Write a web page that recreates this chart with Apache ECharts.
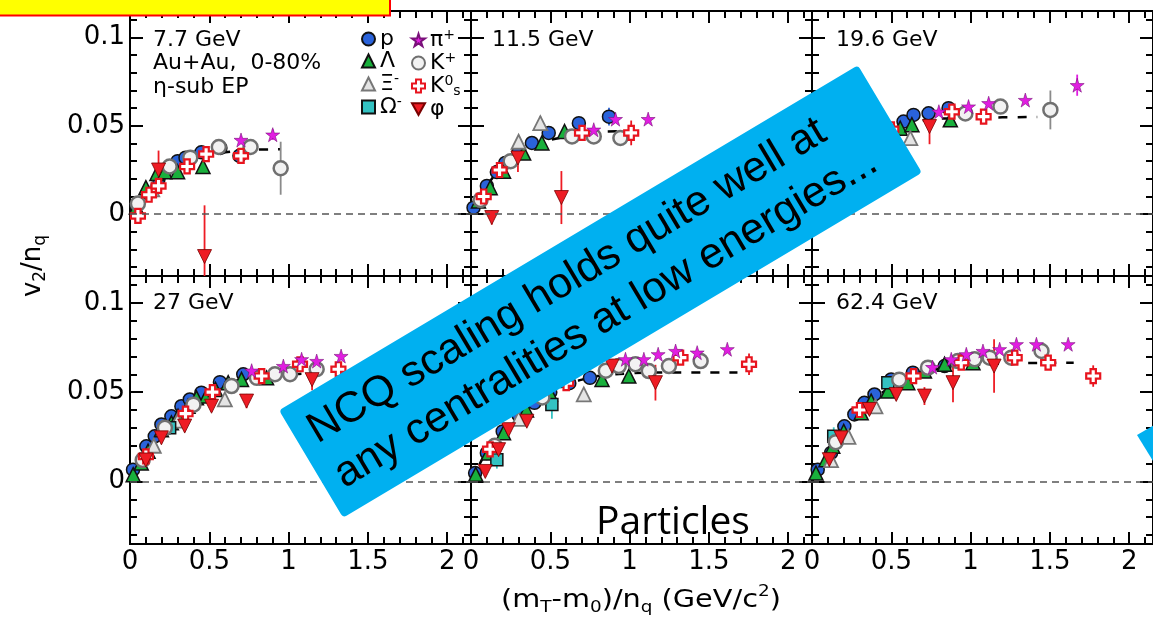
<!DOCTYPE html>
<html>
<head>
<meta charset="utf-8">
<script src="https://cdn.jsdelivr.net/npm/echarts@6/dist/echarts.min.js"></script>
<style>
  html, body { margin: 0; padding: 0; background: #fff; overflow: hidden; }
  .layer { position: absolute; left: 0; top: 0; width: 1153px; height: 624px; }
</style>
</head>
<body>
<div class="layer" id="frame"></div>
<div class="layer" id="chart"></div>
<script>
// ---- panel titles and axis ticks ----
const energies = ['7.7 GeV', '11.5 GeV', '19.6 GeV', '27 GeV', '39 GeV', '62.4 GeV'];
const xTicks = [0, 0.5, 1, 1.5, 2];
const xTickLabels = ['0', '0.5', '1', '1.5', '2'];
const xMinorTicks = [0.1, 0.2, 0.3, 0.4, 0.6, 0.7, 0.8, 0.9, 1.1, 1.2, 1.3, 1.4, 1.6, 1.7, 1.8, 1.9, 2.1];
const yTicks = [0, 0.05, 0.1];
const yTickLabels = ['0', '0.05', '0.1'];
const yMinorTicks = [-0.03, -0.02, -0.01, 0.01, 0.02, 0.03, 0.04, 0.06, 0.07, 0.08, 0.09, 0.11];

// ---- v2/nq vs (mT-m0)/nq, one list per energy: [x, y, error] ----
const proton = [
  [[0.04,0.005,0],[0.11,0.012,0],[0.18,0.020,0],[0.24,0.026,0],[0.30,0.030,0],[0.35,0.032,0],[0.45,0.035,0],[0.57,0.0375,0.002],[0.69,0.033,0.003]],
  [[0.016,0.0037,0],[0.10,0.016,0],[0.163,0.0238,0],[0.216,0.029,0],[0.30,0.035,0],[0.384,0.0403,0],[0.49,0.046,0],[0.68,0.0515,0.002],[0.87,0.0552,0.005]],
  [[0.03,0.005,0],[0.10,0.016,0],[0.20,0.029,0],[0.30,0.038,0],[0.40,0.045,0],[0.577,0.0524,0],[0.64,0.0562,0],[0.735,0.0571,0],[0.861,0.060,0]],
  [[0.019,0.0066,0],[0.103,0.0197,0],[0.156,0.0253,0],[0.198,0.0319,0],[0.261,0.0365,0],[0.324,0.0421,0],[0.377,0.0459,0],[0.45,0.0497,0],[0.567,0.0556,0],[0.714,0.060,0]],
  [[0.026,0.0047,0],[0.10,0.016,0],[0.20,0.028,0],[0.30,0.037,0],[0.40,0.044,0],[0.50,0.050,0],[0.62,0.055,0],[0.75,0.058,0]],
  [[0.036,0.0066,0],[0.12,0.016,0],[0.204,0.0309,0],[0.267,0.0375,0],[0.33,0.044,0],[0.394,0.0487,0],[0.499,0.0571,0],[0.636,0.0609,0],[0.836,0.0646,0]]
];
const lambda = [
  [[0.04,0.004,0],[0.10,0.015,0],[0.17,0.023,0],[0.22,0.024,0],[0.30,0.024,0],[0.46,0.027,0]],
  [[0.047,0.0075,0],[0.121,0.015,0],[0.205,0.0243,0],[0.332,0.0346,0],[0.447,0.0403,0],[0.59,0.0468,0]],
  [[0.05,0.008,0],[0.15,0.022,0],[0.25,0.034,0],[0.35,0.042,0],[0.556,0.0487,0],[0.63,0.0506,0],[0.872,0.0534,0.003]],
  [[0.02,0.0038,0],[0.071,0.0103,0],[0.114,0.0169,0],[0.198,0.029,0],[0.261,0.0328,0],[0.303,0.0365,0],[0.366,0.0421,0],[0.419,0.0468,0],[0.482,0.0478,0],[0.539,0.0515,0],[0.619,0.0553,0],[0.703,0.0571,0],[0.861,0.058,0]],
  [[0.03,0.004,0],[0.11,0.016,0],[0.205,0.0272,0],[0.35,0.040,0],[0.50,0.049,0],[0.826,0.0571,0],[0.995,0.059,0]],
  [[0.025,0.0047,0],[0.088,0.0122,0],[0.131,0.0197,0],[0.20,0.028,0],[0.31,0.0384,0],[0.373,0.045,0],[0.478,0.0506,0],[0.604,0.0553,0],[0.709,0.0618,0],[0.836,0.0656,0],[1.015,0.0665,0]]
];
const xi = [
  [[0.14,0.014,0.004]],
  [[0.30,0.041,0.003],[0.437,0.0515,0.004]],
  [[0.30,0.036,0],[0.62,0.043,0.003]],
  [[0.15,0.020,0],[0.30,0.034,0],[0.598,0.0459,0.002]],
  [[0.30,0.035,0],[0.711,0.0487,0.002]],
  [[0.12,0.012,0],[0.23,0.025,0],[0.40,0.042,0]]
];
const omega = [
  [],
  [],
  [[0.20,0.025,0.004]],
  [[0.25,0.030,0.004]],
  [[0.163,0.0122,0.005],[0.51,0.0431,0.008]],
  [[0.137,0.0253,0.005],[0.478,0.0553,0.004]]
];
const kaonCharged = [
  [[0.05,0.006,0],[0.25,0.027,0],[0.38,0.032,0],[0.56,0.038,0.002],[0.76,0.038,0.003],[0.95,0.026,0.015]],
  [[0.06,0.008,0],[0.25,0.030,0],[0.637,0.044,0],[0.774,0.044,0],[0.942,0.0431,0.002]],
  [[0.10,0.015,0],[0.45,0.047,0],[0.967,0.057,0],[1.188,0.0609,0.002],[1.503,0.059,0.011]],
  [[0.08,0.012,0],[0.22,0.030,0],[0.40,0.043,0],[0.64,0.0534,0],[0.80,0.058,0],[0.914,0.060,0],[1.009,0.060,0],[1.177,0.0628,0.004]],
  [[0.15,0.020,0],[0.45,0.047,0],[0.85,0.062,0],[0.932,0.0646,0],[1.037,0.0656,0],[1.121,0.0618,0],[1.248,0.0646,0],[1.448,0.0674,0]],
  [[0.15,0.022,0],[0.55,0.057,0],[0.731,0.0637,0],[0.92,0.0674,0],[1.025,0.0684,0],[1.12,0.0693,0],[1.257,0.0693,0],[1.447,0.073,0.003]]
];
const kaonShort = [
  [[0.05,-0.001,0.002],[0.12,0.011,0.002],[0.18,0.016,0.004],[0.36,0.027,0.002],[0.48,0.034,0.002],[0.70,0.033,0.004]],
  [[0.08,0.010,0],[0.18,0.025,0.002],[0.70,0.046,0.002],[1.01,0.046,0.007]],
  [[0.12,0.016,0],[0.50,0.048,0],[0.882,0.058,0.002],[1.082,0.0552,0.002]],
  [[0.10,0.014,0],[0.35,0.038,0],[0.52,0.050,0],[0.83,0.059,0],[1.072,0.0656,0.002],[1.314,0.0628,0.004]],
  [[0.12,0.018,0],[0.60,0.055,0],[1.321,0.0693,0.002],[1.753,0.0656,0.006]],
  [[0.30,0.040,0],[0.64,0.059,0],[0.941,0.0665,0],[1.278,0.0693,0],[1.489,0.0665,0.003],[1.773,0.059,0.006]]
];
const pion = [
  [[0.70,0.042,0.002],[0.90,0.045,0.003]],
  [[0.774,0.0478,0],[0.911,0.0538,0.002],[1.117,0.0538,0]],
  [[0.80,0.058,0],[0.987,0.0609,0],[1.114,0.0628,0],[1.345,0.0646,0],[1.672,0.073,0.006]],
  [[0.767,0.062,0],[0.967,0.0646,0],[1.082,0.0684,0],[1.177,0.0674,0],[1.331,0.0702,0.002]],
  [[0.974,0.0684,0],[1.09,0.0684,0],[1.18,0.0712,0],[1.29,0.073,0],[1.426,0.0721,0],[1.616,0.074,0]],
  [[0.76,0.064,0],[0.878,0.0684,0],[0.973,0.0712,0],[1.078,0.073,0],[1.183,0.074,0],[1.289,0.0768,0],[1.415,0.0768,0],[1.615,0.0768,0]]
];
const phiMeson = [
  [[0.18,0.025,0.011],[0.47,-0.024,0.029]],
  [[0.131,-0.0019,0.004],[0.296,0.0318,0.008],[0.57,0.0094,0.015]],
  [[0.25,0.030,0.004],[0.741,0.0496,0.010]],
  [[0.10,0.012,0.003],[0.198,0.0244,0.003],[0.345,0.031,0.003],[0.514,0.0421,0.003],[0.735,0.045,0.004],[1.148,0.057,0.006]],
  [[0.09,0.0056,0.003],[0.174,0.0178,0.003],[0.237,0.029,0.003],[0.352,0.0337,0.003],[0.889,0.0646,0.004],[1.163,0.0553,0.010]],
  [[0.109,0.0122,0.003],[0.183,0.0244,0.003],[0.362,0.0403,0.003],[0.531,0.0487,0.003],[0.709,0.0478,0.005],[0.889,0.0553,0.011],[1.148,0.0646,0.015]]
];
// dashed fit through all species, per energy
const fitCurves = [
  [[0,0],[0.1,0.012],[0.2,0.021],[0.3,0.027],[0.4,0.031],[0.5,0.0335],[0.6,0.035],[0.7,0.036],[0.8,0.0365],[0.95,0.0368]],
  [[0,0],[0.1,0.016],[0.2,0.027],[0.3,0.034],[0.4,0.039],[0.5,0.042],[0.6,0.044],[0.7,0.046],[0.85,0.0468],[0.97,0.047]],
  [[0,0],[0.1,0.016],[0.2,0.029],[0.3,0.038],[0.4,0.044],[0.5,0.048],[0.6,0.051],[0.7,0.053],[0.8,0.054],[1.0,0.0545],[1.2,0.0548],[1.42,0.055]],
  [[0,0],[0.1,0.017],[0.2,0.030],[0.3,0.039],[0.4,0.046],[0.5,0.051],[0.6,0.055],[0.7,0.057],[0.8,0.059],[1.0,0.060],[1.2,0.0605]],
  [[0,0],[0.1,0.017],[0.2,0.029],[0.3,0.038],[0.4,0.045],[0.5,0.050],[0.6,0.054],[0.7,0.057],[0.8,0.059],[1.0,0.0605],[1.2,0.061],[1.68,0.061]],
  [[0,0],[0.1,0.015],[0.2,0.029],[0.3,0.039],[0.4,0.047],[0.5,0.053],[0.6,0.058],[0.7,0.061],[0.8,0.063],[1.0,0.065],[1.2,0.066],[1.65,0.0665]]
];

// ---- marker styles ----
const STAR = 'path://M50,0 L61,35 L98,35 L68,57 L79,91 L50,70 L21,91 L32,57 L2,35 L39,35 Z';
const PLUS = 'path://M31,0 H69 V31 H100 V69 H69 V100 H31 V69 H0 V31 H31 Z';
const DOWN_TRI = 'path://M0,0 L100,0 L50,90 Z';
const species = [
  { name: 'p',   data: proton,      symbol: 'circle',   size: 13, fill: '#2a63db', stroke: '#111', bw: 1.5, err: '#2a63db' },
  { name: 'Λ',   data: lambda,      symbol: 'triangle', size: 14, fill: '#19b03c', stroke: '#111', bw: 1.5, err: '#19b03c' },
  { name: 'Ξ-',  data: xi,          symbol: 'triangle', size: 14, fill: '#e4e4e4', stroke: '#777', bw: 1.8, err: '#999' },
  { name: 'Ω-',  data: omega,       symbol: 'rect',     size: 12, fill: '#33c2c2', stroke: '#111', bw: 1.5, err: '#33c2c2' },
  { name: 'K+',  data: kaonCharged, symbol: 'circle',   size: 14, fill: '#f2f2f2', stroke: '#707070', bw: 2.5, err: '#8a8a8a' },
  { name: 'K0s', data: kaonShort,   symbol: PLUS,       size: 14, fill: '#ffffff', stroke: '#e8141e', bw: 2.2, err: '#e8141e' },
  { name: 'π+',  data: pion,        symbol: STAR,       size: 14, fill: '#e11de1', stroke: '#7a107a', bw: 0.6, err: '#e11de1' },
  { name: 'φ',   data: phiMeson,    symbol: DOWN_TRI,   size: 14, fill: '#ee1c24', stroke: '#7a0000', bw: 0.8, err: '#ee1c24' }
];

const FONT = 'DejaVu Sans';
const cols = [130, 471, 812];
const colW = 341;
const rowBox = [{ top: 11, height: 265 }, { top: 276, height: 268 }];
const xMin = 0, xMax = 2.15, xStep = 0.05;
const yMin = -0.035, yMax = 0.115, yStep = 0.005;

// evenly spaced slots spanning each frame axis; ticks are placed on the slots listed above
const slots = (lo, hi, step) => {
  const out = [];
  const n = Math.round((hi - lo) / step);
  for (let i = 0; i <= n; i++) out.push(+(lo + i * step).toFixed(4));
  return out;
};
const xSlots = slots(xMin, xMax, xStep);
const ySlots = slots(yMin, yMax, yStep);
const has = (list, v) => list.some(t => Math.abs(t - v) < 1e-6);
const labelFor = (list, labels, v) => { const i = list.findIndex(t => Math.abs(t - v) < 1e-6); return i < 0 ? '' : labels[i]; };

const grids = [];
const frameX = [], frameY = [];              // panel frames with ticks and tick labels (back layer)
const dataX = [], dataY = [], series = [];   // plain axes carrying the data (front layer)
const axisLine = () => ({ show: true, onZero: false, lineStyle: { color: '#000', width: 2 } });

function frameAxis(g, dim, position, list, len, labelsOn) {
  const values = dim === 'x' ? xSlots : ySlots;
  const pick = i => has(list, values[i]);
  const axis = {
    type: 'category', gridIndex: g, position, boundaryGap: false,
    data: values.map(String),
    axisLine: axisLine(), splitLine: { show: false },
    axisTick: { show: true, inside: true, length: len, interval: i => pick(i),
      lineStyle: { color: '#000', width: 2 } },
    axisLabel: { show: false }
  };
  if (labelsOn) {
    const lbl = dim === 'x' ? [xTicks, xTickLabels] : [yTicks, yTickLabels];
    axis.axisLabel = { show: true, interval: i => pick(i), margin: 5,
      formatter: v => labelFor(lbl[0], lbl[1], +v),
      fontFamily: FONT, fontSize: 26, color: '#000' };
  }
  return axis;
}

for (let g = 0; g < 6; g++) {
  const r = Math.floor(g / 3), c = g % 3;
  grids.push({ left: cols[c], top: rowBox[r].top, width: colW, height: rowBox[r].height });

  frameX.push(frameAxis(g, 'x', 'bottom', xTicks, 12, r === 1));
  frameX.push(frameAxis(g, 'x', 'bottom', xMinorTicks, 7, false));
  frameX.push(frameAxis(g, 'x', 'top', xTicks, 12, false));
  frameX.push(frameAxis(g, 'x', 'top', xMinorTicks, 7, false));
  frameY.push(frameAxis(g, 'y', 'left', yTicks, 13, c === 0));
  frameY.push(frameAxis(g, 'y', 'left', yMinorTicks, 7, false));
  frameY.push(frameAxis(g, 'y', 'right', yTicks, 13, false));
  frameY.push(frameAxis(g, 'y', 'right', yMinorTicks, 7, false));

  dataX.push({ type: 'value', gridIndex: g, min: xMin, max: xMax, show: false });
  dataY.push({ type: 'value', gridIndex: g, min: yMin, max: yMax, show: false });
  const ax = { xAxisIndex: g, yAxisIndex: g };

  // fit curve plus the zero reference line
  series.push({ type: 'line', name: 'fit', ...ax, data: fitCurves[g], smooth: 0.4, symbol: 'none',
    silent: true, z: 1,
    lineStyle: { color: '#000', width: 2.5, type: [9, 10] },
    markLine: { silent: true, symbol: 'none', label: { show: false },
      lineStyle: { color: '#555', width: 1.5, type: [7, 5] }, data: [{ yAxis: 0 }] } });

  species.forEach(sp => {
    const pts = sp.data[g];
    series.push({ type: 'custom', name: sp.name + ' err', ...ax, data: pts, encode: { x: 0, y: 1 },
      clip: true, silent: true, z: 2,
      renderItem: (params, api) => {
        const e = api.value(2);
        if (!e) return null;
        const a = api.coord([api.value(0), api.value(1) - e]);
        const b = api.coord([api.value(0), api.value(1) + e]);
        return { type: 'line', shape: { x1: a[0], y1: a[1], x2: b[0], y2: b[1] },
          style: { stroke: sp.err, lineWidth: 1.8 } };
      } });
    series.push({ type: 'scatter', name: sp.name, ...ax, data: pts, encode: { x: 0, y: 1 },
      symbol: sp.symbol, symbolSize: sp.size, silent: true, z: 3,
      itemStyle: { color: sp.fill, borderColor: sp.stroke, borderWidth: sp.bw, opacity: 1 } });
  });
}

// legend labels with super/subscripts
const legendLabel = {
  'p': '{b|p}', 'Λ': '{b|Λ}', 'Ξ-': '{b|Ξ}{sup|-}', 'Ω-': '{b|Ω}{sup|-}',
  'π+': '{b|π}{sup|+}', 'K+': '{b|K}{sup|+}', 'K0s': '{b|K}{sup|0}{sub|s}', 'φ': '{b|φ}'
};
const legendText = {
  color: '#000', fontFamily: FONT, fontSize: 22,
  rich: {
    b: { fontFamily: FONT, fontSize: 22, lineHeight: 24, color: '#000' },
    sup: { fontFamily: FONT, fontSize: 14, verticalAlign: 'top', color: '#000' },
    sub: { fontFamily: FONT, fontSize: 14, verticalAlign: 'bottom', color: '#000' }
  }
};
const legendBase = { orient: 'vertical', padding: 0, itemWidth: 13, itemHeight: 13, itemGap: 0,
  selectedMode: false, textStyle: legendText, formatter: n => legendLabel[n] };

// panel captions
const captionPos = [[153, 40], [492, 40], [836, 40], [153, 303], [494, 303], [836, 303]];
const captions = energies.map((t, i) => ({
  type: 'text', x: captionPos[i][0], y: captionPos[i][1], z: 50,
  style: { text: t, fontFamily: FONT, fontSize: 22, fill: '#000', verticalAlign: 'middle' }
}));

// back layer: panel frames, ticks and tick labels
const frameOption = {
  animation: false,
  backgroundColor: '#fff',
  grid: grids,
  xAxis: frameX,
  yAxis: frameY,
  series: []
};

// front layer: data, legend, titles and slide annotations
const dataOption = {
  animation: false,
  backgroundColor: 'transparent',
  grid: grids,
  xAxis: dataX,
  yAxis: dataY,
  series: series,
  legend: [
    { ...legendBase, left: 361, top: 28, data: ['p', 'Λ', 'Ξ-', 'Ω-'] },
    { ...legendBase, left: 411, top: 28, data: ['π+', 'K+', 'K0s', 'φ'] }
  ],
  graphic: { elements: [
    ...captions,
    { type: 'text', x: 153, y: 63, z: 50,
      style: { text: 'Au+Au,  0-80%', fontFamily: FONT, fontSize: 22, fill: '#000', verticalAlign: 'middle' } },
    { type: 'text', x: 153, y: 87, z: 50,
      style: { text: 'η-sub EP', fontFamily: FONT, fontSize: 22, fill: '#000', verticalAlign: 'middle' } },
    // axis titles
    { type: 'text', x: 33, y: 266, rotation: Math.PI / 2, z: 50,
      style: { text: '{b|v}{s|2}{b|/n}{s|q}', align: 'center', verticalAlign: 'middle', fill: '#000',
        rich: { b: { fontFamily: FONT, fontSize: 26, lineHeight: 32 },
                s: { fontFamily: FONT, fontSize: 17, verticalAlign: 'bottom' } } } },
    { type: 'text', x: 641, y: 600, scaleX: 1.15, z: 50,
      style: { text: '{b|(m}{s|T}{b|-m}{s|0}{b|)/n}{s|q}{b| (GeV/c}{p|2}{b|)}',
        align: 'center', verticalAlign: 'middle', fill: '#000',
        rich: { b: { fontFamily: FONT, fontSize: 25, lineHeight: 32 },
                s: { fontFamily: FONT, fontSize: 16, verticalAlign: 'bottom' },
                p: { fontFamily: FONT, fontSize: 16, verticalAlign: 'top' } } } },
    // slide overlays
    { type: 'rect', z: 100, shape: { x: -3, y: -30, width: 393, height: 45.5 },
      style: { fill: '#ffff00', stroke: '#ff0000', lineWidth: 2 } },
    { type: 'group', x: 600.5, y: 291.5, rotation: 30.8 * Math.PI / 180, z: 100,
      children: [
        { type: 'rect', z: 100, shape: { x: -337, y: -62.5, width: 674, height: 125, r: 4 },
          style: { fill: '#00b0f0' } },
        { type: 'text', z: 101, x: -321, y: 0,
          style: { text: 'NCQ scaling holds quite well at\nany centralities at low energies...',
            fontFamily: 'Liberation Sans', fontSize: 43, lineHeight: 52,
            align: 'left', verticalAlign: 'middle', fill: '#000' } }
      ] },
    { type: 'polygon', z: 100, shape: { points: [[1137, 435], [1156, 424], [1156, 466]] },
      style: { fill: '#00b0f0' } },
    { type: 'text', x: 673, y: 523, z: 100,
      style: { text: 'Particles', fontFamily: 'Open Sans', fontSize: 39, fill: '#000',
        align: 'center', verticalAlign: 'middle' } }
  ] }
};

echarts.init(document.getElementById('frame')).setOption(frameOption);
echarts.init(document.getElementById('chart')).setOption(dataOption);
</script>
</body>
</html>
